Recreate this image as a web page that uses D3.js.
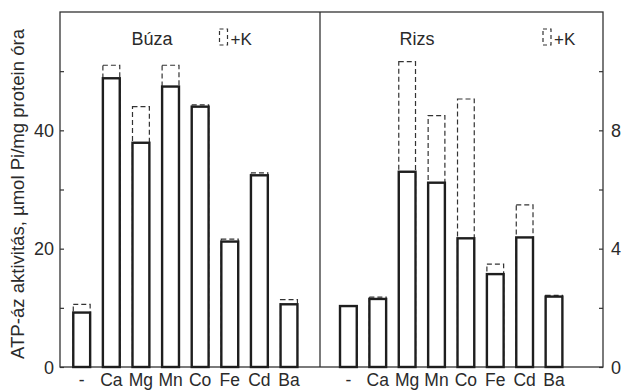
<!DOCTYPE html>
<html><head><meta charset="utf-8">
<script src="https://cdn.jsdelivr.net/npm/d3@7"></script>
<style>body{margin:0;background:#fff}svg text{font-family:"Liberation Sans",Arial,sans-serif;fill:#2a2a2a}</style>
</head><body><svg id="c" width="624" height="392"></svg>
<script>
const categories = ["-", "Ca", "Mg", "Mn", "Co", "Fe", "Cd", "Ba"];
const buzaValues = [9.2, 48.8, 37.9, 47.4, 44.0, 21.2, 32.4, 10.6];
const buzaK = [10.6, 51.0, 44.0, 51.0, 44.3, 21.6, 32.8, 11.4];
const rizsValues = [2.06, 2.3, 6.6, 6.23, 4.35, 3.14, 4.38, 2.38];
const rizsK = [2.06, 2.36, 10.32, 8.5, 9.06, 3.48, 5.48, 2.42];
const leftTicks = [0, 10, 20, 30, 40, 50];
const leftTickLabels = ["0", "", "20", "", "40", ""];
const rightTicks = [0, 2, 4, 6, 8, 10];
const rightTickLabels = ["0", "", "4", "", "8", ""];
const yTitle = "ATP-áz aktivitás, µmol Pi/mg protein óra";

(function () {
const svg = d3.select("#c");
const ink = "#1e1e1e";
const yTop = 12, yBot = 367, xL = 60, xM = 320, xR = 603;
const yL = d3.scaleLinear().domain([0, 60]).range([yBot, yTop]);
const yR = d3.scaleLinear().domain([0, 12]).range([yBot, yTop]);
const xB = d3.scaleBand().domain(categories).range([66.9, 303.8]).paddingInner(0.43).paddingOuter(0.215);
const xRz = d3.scaleBand().domain(categories).range([333.7, 568.7]).paddingInner(0.43).paddingOuter(0.215);

svg.append("rect").attr("x", xL).attr("y", yTop).attr("width", xR - xL).attr("height", yBot - yTop)
  .attr("fill", "none").attr("stroke", "#333").attr("stroke-width", 1.3);
svg.append("line").attr("x1", xM).attr("x2", xM).attr("y1", yTop).attr("y2", yBot)
  .attr("stroke", "#333").attr("stroke-width", 1.3);

const axL = d3.axisRight(yL).tickValues(leftTicks).tickSize(4).tickFormat("");
const gL = svg.append("g").attr("transform", `translate(${xL},0)`).call(axL);
gL.select(".domain").remove();
gL.selectAll("line").attr("stroke", "#333").attr("stroke-width", 1.2);
const axR = d3.axisLeft(yR).tickValues(rightTicks).tickSize(4).tickFormat("");
const gR = svg.append("g").attr("transform", `translate(${xR},0)`).call(axR);
gR.select(".domain").remove();
gR.selectAll("line").attr("stroke", "#333").attr("stroke-width", 1.2);

svg.selectAll(".ltl").data(leftTicks).enter().append("text")
  .attr("x", 54).attr("y", d => yL(d) + 6.5).attr("text-anchor", "end")
  .attr("font-size", 18).text((d, i) => leftTickLabels[i]);
svg.selectAll(".rtl").data(rightTicks).enter().append("text")
  .attr("x", 611).attr("y", d => yR(d) + 6.5).attr("text-anchor", "start")
  .attr("font-size", 18).text((d, i) => rightTickLabels[i]);

svg.append("text").attr("transform", "translate(24,194) rotate(-90)")
  .attr("text-anchor", "middle").attr("font-size", 17.5)
  .attr("textLength", 330).attr("lengthAdjust", "spacingAndGlyphs").text(yTitle);

function panel(x, y, vals, kvals) {
  const g = svg.append("g");
  categories.forEach((c, i) => {
    g.append("rect").attr("x", x(c)).attr("width", x.bandwidth())
      .attr("y", y(kvals[i])).attr("height", y(0) - y(kvals[i]))
      .attr("fill", "none").attr("stroke", "#333").attr("stroke-width", 1.2)
      .attr("stroke-dasharray", "5,3");
    g.append("rect").attr("x", x(c)).attr("width", x.bandwidth())
      .attr("y", y(vals[i])).attr("height", y(0) - y(vals[i]))
      .attr("fill", "#fff").attr("stroke", ink).attr("stroke-width", 2.4);
  });
  g.selectAll("text").data(categories).enter().append("text")
    .attr("x", d => x(d) + x.bandwidth() / 2).attr("y", 386)
    .attr("text-anchor", "middle").attr("font-size", 17.5).text(d => d);
}
panel(xB, yL, buzaValues, buzaK);
panel(xRz, yR, rizsValues, rizsK);

function title(cx, label, bx) {
  svg.append("text").attr("x", cx).attr("y", 45).attr("text-anchor", "middle")
    .attr("font-size", 18).text(label);
  svg.append("rect").attr("x", bx).attr("y", 29).attr("width", 8).attr("height", 16)
    .attr("fill", "none").attr("stroke", "#333").attr("stroke-width", 1.2).attr("stroke-dasharray", "4,3");
  svg.append("text").attr("x", bx + 11).attr("y", 45).attr("font-size", 17).text("+K");
}
title(152, "Búza", 219.5);
title(417, "Rizs", 543);
})();
</script></body></html>
